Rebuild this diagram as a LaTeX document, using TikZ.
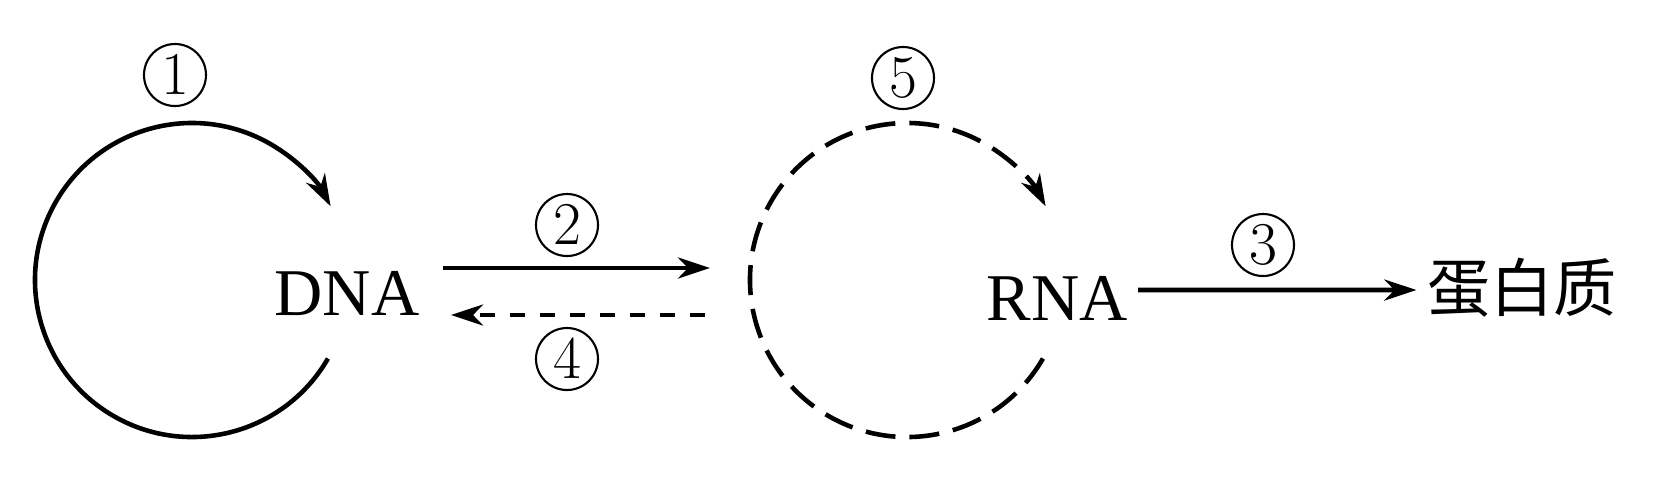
\documentclass[tikz,border=0pt]{standalone}
\usepackage{fontspec}
\setmainfont{Liberation Serif}
\newfontfamily\cjk{Noto Sans CJK SC}
\usepackage{tikz}
\usetikzlibrary{arrows.meta, calc}

\begin{document}
\begin{tikzpicture}[
        % Define styles for the nodes
        mol_node/.style={inner sep=0pt, font=\fontsize{19}{21}\selectfont},
        num_node/.style={circle, draw=black, line width=0.6pt, minimum size=0.62cm, inner sep=0pt, font=\fontsize{18}{20}\selectfont},
        % Styles for arrows
        arrow/.style={-{Stealth[length=3.2mm, width=2.1mm, inset=1mm]}, line width=1.3pt},
        back_arrow/.style={arrow, dash pattern=on 0.15cm off 0.15cm},
        loop_dash/.style={arrow, dash pattern=on 0.30cm off 0.14cm}
    ]
    \useasboundingbox (0,0) rectangle (16.54,-4.87);

    % =========================================================================
    % MOLECULES
    % =========================================================================
    \node (dna) [mol_node] at (3.47,-2.94) {DNA};
    \node (rna) [mol_node] at (10.57,-2.98) {RNA};
    \node (prot) [mol_node, font=\fontsize{18}{20}\selectfont\cjk] at (15.22,-2.88) {蛋白质};

    % centres of the two loops
    \coordinate (loop_dna) at (1.92,-2.80);
    \coordinate (loop_rna) at (9.07,-2.80);

    % =========================================================================
    % LOOPS - REPLICATION
    % =========================================================================
    \draw [arrow] ([shift={(-30:1.57)}]loop_dna) arc[start angle=-30, end angle=-332, radius=1.57];
    \node (n1) [num_node] at (1.75,-0.75) {$1$};

    \draw [loop_dash] ([shift={(-30:1.57)}]loop_rna) arc[start angle=-30, end angle=-332, radius=1.57];
    \node (n5) [num_node] at (9.03,-0.78) {$5$};

    % =========================================================================
    % TRANSCRIPTION / REVERSE TRANSCRIPTION / TRANSLATION
    % =========================================================================
    \draw [arrow] ([shift={(0.23,0.26)}]dna.east) -- ([shift={(-1.97,0.12)}]loop_rna);
    \node (n2) [num_node] at (5.67,-2.25) {$2$};

    \draw [back_arrow] ([shift={(-2.02,-0.35)}]loop_rna) -- ([shift={(0.31,-0.21)}]dna.east);
    \node (n4) [num_node] at (5.67,-3.59) {$4$};

    \draw [arrow] ([shift={(0.10,0.08)}]rna.east) -- ([shift={(-0.10,-0.02)}]prot.west);
    \node (n3) [num_node] at (12.63,-2.45) {$3$};

\end{tikzpicture}
\end{document}
